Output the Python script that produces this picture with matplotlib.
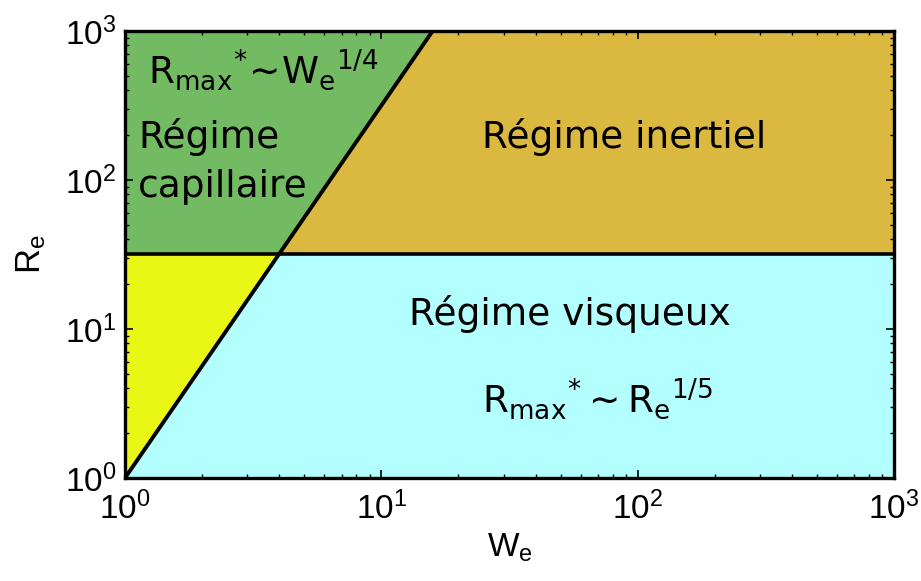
import matplotlib
matplotlib.use("Agg")
import matplotlib.pyplot as plt
from matplotlib.patches import Polygon
from matplotlib.ticker import LogLocator

plt.rcParams['font.family'] = ['Liberation Sans', 'DejaVu Sans']
plt.rcParams['mathtext.default'] = 'regular'

# Data: regime boundaries
we_limits = [1, 1000]
re_limits = [1, 1000]
re_threshold = 32.0          # horizontal boundary Re
line_we = [1, 4, 15.85]      # diagonal boundary Re ~ We^(5/2)
line_re = [1, 32, 1000]

colors = {
    'capillaire': '#72bb62',
    'inertiel': '#dbb940',
    'visqueux': '#b3ffff',
    'autre': '#eaf715',
}

fig = plt.figure(figsize=(9.21, 5.81), dpi=100)
ax = fig.add_axes([0.1357, 0.1773, 0.8350, 0.7693])
ax.set_xscale('log')
ax.set_yscale('log')
ax.set_xlim(we_limits)
ax.set_ylim(re_limits)

wmin, wmax = we_limits
rmin, rmax = re_limits
polys = [
    ([(wmin, re_threshold), (wmin, rmax), (line_we[2], line_re[2]), (line_we[1], line_re[1])], colors['capillaire'], '#2a9d8f'),
    ([(line_we[1], line_re[1]), (line_we[2], line_re[2]), (wmax, rmax), (wmax, re_threshold)], colors['inertiel'], colors['inertiel']),
    ([(line_we[0], line_re[0]), (line_we[1], line_re[1]), (wmax, re_threshold), (wmax, rmin)], colors['visqueux'], colors['visqueux']),
    ([(line_we[0], line_re[0]), (wmin, re_threshold), (line_we[1], line_re[1])], colors['autre'], colors['autre']),
]
for pts, fc, ec in polys:
    ax.add_patch(Polygon(pts, closed=True, facecolor=fc, edgecolor=ec, lw=1, zorder=1))

ax.plot(line_we, line_re, color='black', lw=2.8, zorder=3, solid_capstyle='butt')
ax.plot(we_limits, [re_threshold, re_threshold], color='black', lw=2.6, zorder=3)

ax.xaxis.set_major_locator(LogLocator(base=10, numticks=10))
ax.yaxis.set_major_locator(LogLocator(base=10, numticks=10))
ax.tick_params(which='both', direction='in', top=True, right=True, labelsize=24)
ax.tick_params(axis='x', pad=10)
ax.tick_params(axis='y', pad=6)
ax.tick_params(which='major', length=6, width=1.2)
ax.tick_params(which='minor', length=3, width=1.0)
for s in ax.spines.values():
    s.set_linewidth(2.4)
    s.set_zorder(4)

ax.set_xlabel('W$_e$', fontsize=24, labelpad=4)
ax.set_ylabel('R$_e$', fontsize=25, labelpad=12)

tkw = dict(transform=ax.transAxes, fontsize=27, family=['DejaVu Sans'], va='baseline', ha='left', zorder=5)
ax.text(0.030, 0.884, r'$R_{max}{}^{*}\!\sim\!W_{e}{}^{1/4}$', **tkw)
ax.text(0.017, 0.738, 'Régime', **tkw)
ax.text(0.017, 0.629, 'capillaire', **tkw)
ax.text(0.464, 0.738, 'Régime inertiel', **tkw)
ax.text(0.369, 0.342, 'Régime visqueux', **tkw)
ax.text(0.464, 0.148, r'$R_{max}{}^{*}\sim R_{e}{}^{1/5}$', **tkw)

fig.savefig('out.png', dpi=100)
